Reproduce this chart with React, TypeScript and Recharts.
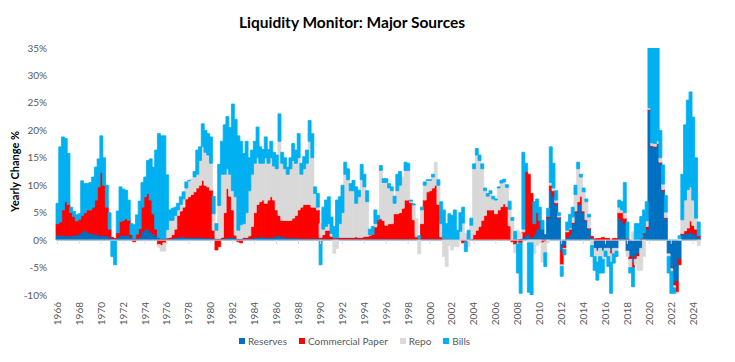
import React from 'react';
import { BarChart, Bar, XAxis, YAxis, ReferenceLine, Legend } from 'recharts';

const FONT = 'Lato, "Liberation Sans", Arial, sans-serif';

// Quarterly yearly-change contributions (%), 1966Q1 .. 2024Q3
const reserves = [
  0.9, 0.9, 0.9, 0.8, // 1966
  0.8, 0.8, 0.9, 0.9, // 1967
  1.2, 1.5, 1.8, 1.5, // 1968
  1.2, 1.2, 1.0, 1.0, // 1969
  0.8, 0.8, 0.8, 0.6, // 1970
  0.3, 0.2, 0.5, 0.9, // 1971
  0.9, 0.9, 0.9, 0.5, // 1972
  0.3, 0.3, 0.6, 1.5, // 1973
  2.0, 2.0, 1.5, 1.2, // 1974
  0.8, 0.5, 0.3, 0.3, // 1975
  0.2, 0.2, 0.3, 0.5, // 1976
  0.5, 0.6, 0.6, 0.5, // 1977
  0.5, 0.5, 0.5, 0.5, // 1978
  0.5, 0.5, 0.4, 0.4, // 1979
  0.4, 0.3, 0.3, 0.3, // 1980
  0.3, 0.3, 0.4, 0.5, // 1981
  0.5, 0.4, 0.3, 0.3, // 1982
  0.3, 0.3, 0.3, 0.3, // 1983
  0.5, 0.5, 0.6, 0.6, // 1984
  0.5, 0.5, 0.5, 0.6, // 1985
  0.8, 0.8, 0.6, 0.6, // 1986
  0.4, 0.4, 0.4, 0.4, // 1987
  0.4, 0.3, 0.3, 0.3, // 1988
  0.3, 0.3, 0.3, 0.3, // 1989
  0.2, 0.2, 0.2, 0.2, // 1990
  0.2, 0.2, 0.2, 0.2, // 1991
  0.2, 0.2, 0.2, 0.2, // 1992
  0.2, 0.2, 0.2, 0.2, // 1993
  0.2, 0.2, 0.2, 0.2, // 1994
  0.2, 0.2, 0.2, 0.2, // 1995
  0.2, 0.2, 0.2, 0.2, // 1996
  0.2, 0.2, 0.2, 0.2, // 1997
  0.2, 0.2, 0.2, 0.1, // 1998
  0.1, 0.2, 0.2, 0.2, // 1999
  0.2, 0.2, 0.2, 0.2, // 2000
  0.1, 0.1, 0.1, 0.1, // 2001
  0.1, 0.1, 0.1, 0.1, // 2002
  0.1, 0.1, 0.1, 0.1, // 2003
  0.1, 0.1, 0.1, 0.1, // 2004
  0.1, 0.1, 0.1, 0.1, // 2005
  0.1, 0.1, 0.1, 0.1, // 2006
  0.1, 0.1, 0.1, 0.1, // 2007
  0.2, 0.3, 0.5, 1.0, // 2008
  1.0, 0.5, 1.0, 2.0, // 2009
  3.6, 2.0, 1.0, 4.0, // 2010
  9.0, 8.0, 6.5, 4.0, // 2011
  -2.0, -1.0, 0.5, 1.0, // 2012
  3.0, 5.0, 6.5, 6.5, // 2013
  5.0, 3.5, 2.0, 0.5, // 2014
  -1.5, -2.0, -1.5, -2.0, // 2015
  -1.5, -1.5, -2.0, -1.5, // 2016
  -1.5, 4.0, 3.5, 3.0, // 2017
  -2.0, -3.0, -4.0, -3.0, // 2018
  -2.5, -1.5, 1.0, 2.0, // 2019
  23.6, 17.0, 17.0, 17.5, // 2020
  14.0, 9.0, 4.0, -2.5, // 2021
  -5.0, -8.0, -7.5, -3.5, // 2022
  1.0, 1.2, 1.2, 1.5, // 2023
  1.2, 1.0, 0.5, // 2024
];

const commercialPaper = [
  2.1, 2.4, 4.6, 6.2, // 1966
  5.7, 4.2, 3.4, 2.6, // 1967
  2.6, 3.0, 3.2, 4.0, // 1968
  4.3, 4.8, 6.3, 8.7, // 1969
  11.5, 9.2, 5.2, 1.4, // 1970
  0.2, 0.1, 0.8, 2.5, // 1971
  2.7, 3.0, 2.7, 0.5, // 1972
  -0.3, 0.8, 1.5, 4.5, // 1973
  5.9, 6.5, 5.8, 3.6, // 1974
  1.2, -0.8, -1.0, -0.5, // 1975
  0.2, 0.3, 0.7, 1.5, // 1976
  4.0, 4.7, 5.4, 7.0, // 1977
  7.4, 7.8, 8.3, 9.0, // 1978
  9.5, 10.4, 9.6, 9.3, // 1979
  8.7, 1.5, -1.8, -1.2, // 1980
  0.2, 4.7, 9.0, 7.5, // 1981
  5.0, 0.5, -0.3, -0.5, // 1982
  0.2, 0.2, 0.5, 2.2, // 1983
  4.5, 6.0, 6.4, 6.7, // 1984
  6.2, 6.8, 7.4, 6.7, // 1985
  4.7, 3.7, 3.0, 3.0, // 1986
  3.2, 3.2, 3.6, 4.1, // 1987
  5.1, 5.7, 6.2, 6.2, // 1988
  6.2, 5.7, 5.7, 5.2, // 1989
  0.3, 0.8, 1.6, 1.6, // 1990
  0.5, 0.2, 0.2, 0.3, // 1991
  0.3, 0.3, 0.3, 0.3, // 1992
  0.3, 0.4, 0.3, 0.3, // 1993
  0.5, 0.5, 0.7, 0.8, // 1994
  2.2, 3.5, 3.7, 3.4, // 1995
  2.5, 2.8, 2.8, 4.6, // 1996
  4.6, 4.8, 5.6, 7.1, // 1997
  7.1, 6.6, 3.5, 0.5, // 1998
  0.2, 2.8, 7.1, 8.6, // 1999
  8.8, 9.3, 9.8, 6.3, // 2000
  0.5, 0.1, 0.1, 0.1, // 2001
  0.0, 0.0, 0.0, 0.0, // 2002
  -0.5, -0.3, 0.0, 0.1, // 2003
  0.9, 1.7, 2.4, 3.5, // 2004
  4.4, 5.4, 5.4, 5.4, // 2005
  4.7, 5.4, 6.0, 6.5, // 2006
  6.0, 2.5, -0.3, -0.8, // 2007
  -0.5, -0.5, 1.0, 11.5, // 2008
  11.0, 8.0, 2.0, 3.0, // 2009
  0.0, -0.5, -0.3, 0.3, // 2010
  1.0, 1.0, 0.3, 0.2, // 2011
  -2.5, -0.5, 1.0, 1.0, // 2012
  0.2, 0.3, 0.5, 1.5, // 2013
  0.3, 0.2, 0.2, 0.2, // 2014
  0.2, 0.3, 0.3, 0.5, // 2015
  0.3, 0.3, -0.5, 0.3, // 2016
  0.3, 1.0, 1.5, 1.0, // 2017
  0.3, -0.5, -1.0, -0.5, // 2018
  -0.5, 0.3, 0.3, 0.5, // 2019
  0.2, 0.2, 0.1, 0.1, // 2020
  0.2, 0.2, 0.1, 0.0, // 2021
  -0.2, -0.3, -2.0, -1.0, // 2022
  0.2, 0.5, 1.0, 2.0, // 2023
  1.5, 1.0, 0.3, // 2024
];

const repo = [
  0, 0, 0, 0, // 1966
  0, 0, 0, 0, // 1967
  0, 0, 0, 0, // 1968
  0, 0, 0, 0, // 1969
  0, 0, 0, 0, // 1970
  0, 0, 0, 0, // 1971
  0, 0, 0, 0, // 1972
  0, 0, 0, 0, // 1973
  0, 0, 0, 0, // 1974
  0, -0.5, -1.0, -1.5, // 1975
  1.5, 3.1, 2.6, 2.5, // 1976
  1.0, 1.2, 1.5, 2.0, // 1977
  2.9, 2.9, 2.7, 2.5, // 1978
  4.5, 6.1, 6.0, 5.8, // 1979
  4.9, 3.0, 1.5, 6.0, // 1980
  11.5, 7.0, 3.6, 4.0, // 1981
  3.5, 7.0, 1.5, 2.5, // 1982
  2.5, 4.5, 8.2, 9.5, // 1983
  9.0, 8.5, 7.0, 6.7, // 1984
  8.3, 6.7, 7.1, 6.2, // 1985
  7.5, 13.5, 10.4, 9.4, // 1986
  8.4, 9.4, 10.5, 9.5, // 1987
  9.5, 6.0, 6.5, 7.5, // 1988
  11.5, 9.0, 2.5, 0.5, // 1989
  2.5, 1.0, 0.7, 1.2, // 1990
  0.5, -2.4, -1.5, 2.5, // 1991
  4.5, 11.5, 10.5, 8.5, // 1992
  8.5, 6.1, 7.4, 10.5, // 1993
  9.0, 6.3, 0.1, 0.0, // 1994
  0.6, 0.0, 8.8, 6.9, // 1995
  7.8, 6.5, 6.0, 1.9, // 1996
  4.2, 5.0, 5.7, 5.4, // 1997
  5.4, 0.3, 2.7, 3.3, // 1998
  -2.5, 2.5, 2.7, 2.1, // 1999
  1.9, 2.0, 4.2, 3.5, // 2000
  2.4, -3.0, -4.8, -1.0, // 2001
  -1.8, -1.2, -1.2, 1.5, // 2002
  3.0, 1.1, -1.2, 2.5, // 2003
  12.0, 13.7, 12.0, 9.4, // 2004
  4.5, 2.5, 3.0, 2.0, // 2005
  2.5, 4.0, 4.3, 4.0, // 2006
  3.5, 3.0, 3.5, -1.5, // 2007
  1.6, 1.0, 0.5, 0.0, // 2008
  -0.5, -0.5, -2.5, -1.0, // 2009
  -0.5, -3.5, -2.0, -0.5, // 2010
  0.5, 0.5, 0.5, 0.3, // 2011
  -0.3, -0.2, 0.3, 0.2, // 2012
  1.0, 3.0, 6.0, 3.5, // 2013
  3.5, 3.3, 2.0, -1.0, // 2014
  -1.5, -2.0, -1.5, -1.5, // 2015
  -0.5, -1.5, -1.5, -1.0, // 2016
  -0.5, 1.0, 0.5, 1.0, // 2017
  -1.0, -1.5, 1.5, -1.0, // 2018
  -2.5, -4.0, -3.0, 1.0, // 2019
  0.3, 0.5, 0.5, 0.5, // 2020
  0.8, 1.0, 1.0, -0.5, // 2021
  -0.5, -0.4, -0.2, 0.3, // 2022
  2.5, 5.6, 7.0, 6.2, // 2023
  4.6, 2.0, -1.0, // 2024
];

const bills = [
  3.7, 13.7, 13.3, 11.5, // 1966
  9.3, 1.0, 0.9, 1.1, // 1967
  1.0, 6.3, 5.3, 4.8, // 1968
  5.0, 5.5, 6.0, 5.1, // 1969
  6.7, 5.0, 4.0, 3.0, // 1970
  -3.0, -4.5, 4.0, 6.3, // 1971
  5.7, 5.2, 3.7, 2.0, // 1972
  2.5, 3.5, 5.0, 4.5, // 1973
  3.6, 6.0, 7.5, 8.5, // 1974
  14.4, 18.9, 18.7, 18.7, // 1975
  10.0, 1.9, 2.2, 1.5, // 1976
  1.2, 1.4, 1.3, 1.1, // 1977
  0.1, 0.0, 1.0, 4.4, // 1978
  2.5, 4.2, 4.0, 3.9, // 1979
  4.8, 3.2, 1.2, 7.5, // 1980
  6.0, 9.0, 9.5, 8.5, // 1981
  15.8, 14.1, 17.2, 15.2, // 1982
  12.8, 13.0, 6.0, 4.4, // 1983
  4.0, 5.6, 3.0, 2.5, // 1984
  3.8, 2.5, 3.0, 2.5, // 1985
  2.5, 5.0, 2.0, 2.0, // 1986
  1.3, 2.0, 3.1, 2.4, // 1987
  4.4, 2.0, 2.2, 2.4, // 1988
  3.8, 4.4, 1.2, 2.5, // 1989
  -4.5, 4.0, 4.8, 4.9, // 1990
  3.0, 2.1, 6.9, 4.9, // 1991
  5.0, 2.2, 2.0, 1.3, // 1992
  1.9, 3.0, 1.2, 2.8, // 1993
  2.3, 2.0, 1.0, 1.5, // 1994
  2.5, 0.8, 0.9, 0.7, // 1995
  0.7, 0.8, 0.7, 1.3, // 1996
  3.0, 2.5, 0.0, 1.5, // 1997
  1.3, 0.2, 0.2, 0.0, // 1998
  0.5, 0.5, 0.6, 0.1, // 1999
  0.1, 0.5, 0.0, 1.0, // 2000
  4.0, 5.3, 2.8, 4.6, // 2001
  4.4, 5.4, 1.7, 3.4, // 2002
  2.9, -1.8, 1.7, 1.3, // 2003
  0.9, 1.2, 1.0, 0.9, // 2004
  0.5, 0.5, 0.5, 0.5, // 2005
  0.2, 0.2, 0.5, 0.5, // 2006
  0.5, 1.5, 0.5, 1.5, // 2007
  -5.5, -9.2, 14.0, 1.5, // 2008
  -9.0, -9.5, 4.0, 2.5, // 2009
  2.4, 1.6, -2.5, 1.5, // 2010
  6.5, 4.5, 1.7, 0.5, // 2011
  -1.8, -1.0, 1.5, 2.5, // 2012
  1.8, 1.7, 1.2, 0.5, // 2013
  0.7, 0.5, 0.5, -2.0, // 2014
  -2.5, -3.3, -3.0, -2.5, // 2015
  -1.0, -1.8, -5.7, -1.7, // 2016
  -1.0, 1.3, 1.5, 5.5, // 2017
  3.0, -1.0, -3.5, 3.0, // 2018
  3.0, 4.0, 4.2, 3.5, // 2019
  10.9, 17.3, 17.4, 16.9, // 2020
  5.0, 3.5, 3.0, -3.0, // 2021
  -4.0, -1.0, 0.0, 0.5, // 2022
  8.3, 13.7, 16.3, 17.3, // 2023
  15.1, 11.0, 2.5, // 2024
];

const START_YEAR = 1966;
const quarters: string[] = reserves.map((_, i) => `${START_YEAR + Math.floor(i / 4)}Q${(i % 4) + 1}`);

const tickLabels = [
  '1966', '1968', '1970', '1972', '1974', '1976', '1978', '1980', '1982', '1984',
  '1986', '1988', '1990', '1992', '1994', '1996', '1998', '2000', '2002', '2004',
  '2006', '2008', '2010', '2012', '2014', '2016', '2018', '2020', '2022', '2024',
];
const xTicks = tickLabels.map((y) => `${y}Q1`);
const yTicks = [-10, -5, 0, 5, 10, 15, 20, 25, 30, 35];

const series = [
  { key: 'reserves', name: 'Reserves', color: '#0070C0' },
  { key: 'cp', name: 'Commercial Paper', color: '#FF0000' },
  { key: 'repo', name: 'Repo', color: '#D9D9D9' },
  { key: 'bills', name: 'Bills', color: '#00B0F0' },
];

const data = quarters.map((q, i) => ({
  quarter: q,
  reserves: reserves[i],
  cp: commercialPaper[i],
  repo: repo[i],
  bills: bills[i],
}));

const XTick = (props: any) => {
  const { x, y, payload } = props;
  return (
    <text
      x={x}
      y={y}
      transform={`rotate(-90, ${x}, ${y})`}
      textAnchor="end"
      dy="0.35em"
      fill="#595959"
      fontSize={10}
      fontFamily={FONT}
    >
      {String(payload.value).slice(0, 4)}
    </text>
  );
};

const YLabel = (props: any) => {
  const vb = props.viewBox || { x: 0, y: 48, width: 56, height: 247 };
  const cx = vb.x + 14;
  const cy = vb.y + vb.height / 2;
  return (
    <text
      x={cx}
      y={cy}
      transform={`rotate(-90, ${cx}, ${cy})`}
      textAnchor="middle"
      dominantBaseline="central"
      fontFamily={FONT}
      fontWeight={700}
      fontSize={11}
      fill="#000"
    >
      Yearly Change %
    </text>
  );
};

const LegendContent = () => (
  <div
    style={{
      display: 'flex',
      justifyContent: 'center',
      alignItems: 'center',
      height: 20,
      paddingLeft: 9,
      fontFamily: FONT,
      fontSize: 10,
      color: '#595959',
    }}
  >
    {series.map((s, i) => (
      <div key={s.key} style={{ display: 'flex', alignItems: 'center', marginLeft: i ? 12 : 0 }}>
        <div style={{ width: 6, height: 6, background: s.color, marginRight: 3 }} />
        <span>{s.name}</span>
      </div>
    ))}
  </div>
);

export default function App() {
  return (
    <div style={{ position: 'absolute', left: 0, top: 0, width: 735, height: 362, background: '#fff' }}>
      <BarChart
        width={735}
        height={362}
        data={data}
        stackOffset="sign"
        barCategoryGap={0}
        barGap={0}
        margin={{ top: 48, right: 35, bottom: 11, left: 0 }}
      >
        <XAxis
          dataKey="quarter"
          ticks={xTicks}
          interval={0}
          tick={<XTick />}
          tickLine={false}
          tickSize={0}
          tickMargin={7}
          axisLine={false}
          height={36}
        />
        <YAxis
          type="number"
          domain={[-10, 35]}
          ticks={yTicks}
          allowDataOverflow
          tickFormatter={(v: number) => `${v}%`}
          width={56}
          tickLine={false}
          tickSize={0}
          tickMargin={9}
          axisLine={false}
          tick={{ fill: '#595959', fontSize: 10, fontFamily: FONT }}
          label={{ content: YLabel }}
        />
        {series.map((s) => (
          <Bar
            key={s.key}
            dataKey={s.key}
            name={s.name}
            stackId="a"
            fill={s.color}
            stroke={s.color}
            strokeWidth={0.8}
            isAnimationActive={false}
          />
        ))}
        <ReferenceLine y={0} stroke="#D9D9D9" strokeWidth={1} />
        {xTicks.map((t) => (
          <ReferenceLine
            key={t}
            segment={[{ x: t, y: 0 }, { x: t, y: -0.7 }]}
            stroke="#D9D9D9"
          />
        ))}
        <Legend content={<LegendContent />} verticalAlign="bottom" />
      </BarChart>
      <div
        style={{
          position: 'absolute',
          left: 0,
          top: 12,
          width: 704,
          textAlign: 'center',
          fontFamily: FONT,
          fontWeight: 700,
          fontSize: 15.5,
          lineHeight: '20px',
          color: '#000',
        }}
      >
        Liquidity Monitor: Major Sources
      </div>
    </div>
  );
}
